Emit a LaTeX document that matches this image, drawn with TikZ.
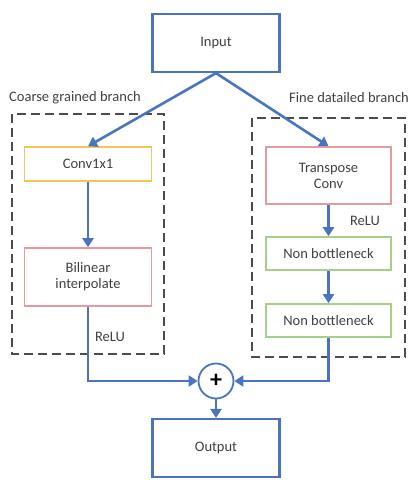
\documentclass[tikz,border=0pt]{standalone}
\usepackage{fontspec}
\setmainfont{Carlito}
\usetikzlibrary{arrows.meta}
\definecolor{bl}{HTML}{4A74C0}
\definecolor{yel}{HTML}{F2C45C}
\definecolor{rd}{HTML}{E49A9E}
\definecolor{gr}{HTML}{A6CF88}
\definecolor{txt}{HTML}{404040}
\begin{document}
\begin{tikzpicture}[x=1pt,y=-1pt,
  box/.style={draw, line width=1.6pt, minimum width=127pt, inner sep=0pt, align=center, font=\fontsize{14.5}{16}\selectfont, text=txt},
  bbox/.style={box, draw=bl, line width=2.2pt, minimum height=58pt},
  arr/.style={draw=bl, line width=2.6pt, -{Triangle[length=9pt,width=11pt]}},
  lbl/.style={font=\fontsize{14.5}{16}\selectfont, text=txt, inner sep=0pt},
  dbox/.style={draw=black!70, line width=1.8pt, dash pattern=on 9pt off 5pt}]
\useasboundingbox (0,0) rectangle (420,488);
% dashed groups
\draw[dbox] (12,114) rectangle (164,354);
\draw[dbox] (252,118) rectangle (405,357);
\node[lbl, anchor=west] (lc) at (9,98) {Coarse grained branch};
\node[lbl, anchor=east] (rc) at (409,98) {Fine datailed branch};
% nodes
\node[bbox] (in) at (216,43) {Input};
\node[box, draw=yel, minimum height=34pt] (c1) at (88,164) {Conv1x1};
\node[box, draw=rd, minimum height=58pt] (bi) at (88,277) {Bilinear\\interpolate};
\node[box, draw=rd, minimum height=57pt, minimum width=125pt] (tc) at (328.5,175.5) {Transpose\\Conv};
\node[box, draw=gr, minimum height=33pt, minimum width=125pt] (nb1) at (328.5,253.5) {Non bottleneck};
\node[box, draw=gr, minimum height=33pt, minimum width=125pt] (nb2) at (328.5,320.5) {Non bottleneck};
\node[circle, draw=bl, line width=1.8pt, minimum size=35pt, inner sep=0pt, font=\fontsize{24}{24}\selectfont\bfseries] (pl) at (216,381) {+};
\node[bbox] (out) at (216,448) {Output};
\node[lbl] (r1) at (365,221) {ReLU};
\node[lbl] (r2) at (110,337) {ReLU};
% connectors
\draw[arr] (in.south) -- (c1.north);
\draw[arr] (in.south) -- (tc.north);
\draw[arr] (c1.south) -- (bi.north);
\draw[arr] (tc.south) -- (nb1.north);
\draw[arr] (nb1.south) -- (nb2.north);
\draw[arr] (bi.south) |- (pl.west);
\draw[arr] (nb2.south) |- (pl.east);
\draw[arr] (pl.south) -- (out.north);
\end{tikzpicture}
\end{document}
